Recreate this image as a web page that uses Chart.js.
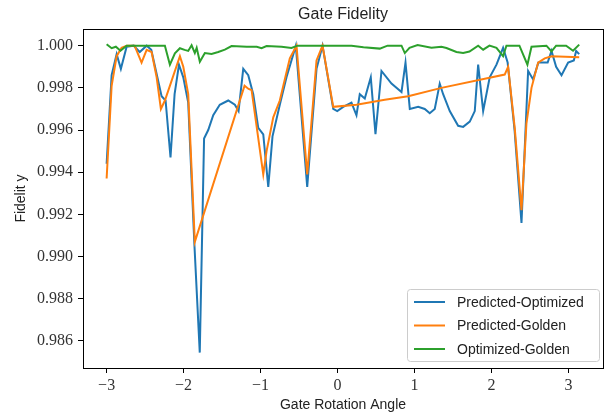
<!DOCTYPE html>
<html>
<head>
<meta charset="utf-8">
<script src="https://cdn.jsdelivr.net/npm/chart.js@4.4.1/dist/chart.umd.min.js"></script>
<style>
  body { margin: 0; background: #fff; }
  canvas { display: block; }
</style>
</head>
<body>
<canvas id="chart" width="610" height="417"></canvas>
<script>
// values (angle in rad, fidelity)
const predOptAngle = [-3.00, -2.935, -2.87, -2.815, -2.74, -2.65, -2.57, -2.48, -2.42, -2.286, -2.234, -2.17, -2.117, -2.06, -2.004, -1.94, -1.86, -1.79, -1.734, -1.68, -1.615, -1.53, -1.42, -1.334, -1.286, -1.225, -1.16, -1.095, -1.03, -0.965, -0.90, -0.845, -0.75, -0.663, -0.542, -0.394, -0.273, -0.195, -0.056, -0.004, 0.074, 0.181, 0.246, 0.289, 0.354, 0.432, 0.493, 0.571, 0.701, 0.831, 0.883, 0.939, 1.048, 1.133, 1.198, 1.263, 1.328, 1.372, 1.458, 1.567, 1.632, 1.718, 1.783, 1.827, 1.892, 1.977, 2.065, 2.151, 2.21, 2.30, 2.39, 2.476, 2.541, 2.61, 2.675, 2.73, 2.78, 2.84, 2.91, 2.996, 3.07, 3.10, 3.14];
const predOptFid = [0.9944, 0.9986, 0.9996, 0.9989, 0.99995, 1.0000, 0.9997, 1.0000, 0.9998, 0.9976, 0.9974, 0.9947, 0.9977, 0.9991, 0.9985, 0.9973, 0.9906, 0.98545, 0.9956, 0.9960, 0.9967, 0.9972, 0.9974, 0.9972, 0.9969, 0.9989, 0.9986, 0.9977, 0.9961, 0.9958, 0.9933, 0.9957, 0.9972, 0.9985, 1.0000, 0.9933, 0.9989, 1.0000, 0.9970, 0.9969, 0.9971, 0.9973, 0.9967, 0.9977, 0.9975, 0.9985, 0.9958, 0.9988, 0.9982, 0.9978, 0.9992, 0.9970, 0.9971, 0.9970, 0.9968, 0.9970, 0.9982, 0.9977, 0.9969, 0.9962, 0.99615, 0.9964, 0.9969, 0.9991, 0.9969, 0.9985, 0.9991, 0.9999, 0.9992, 0.9960, 0.9916, 0.9988, 0.9984, 0.9992, 0.9992, 0.9992, 0.99975, 0.9990, 0.9986, 0.9992, 0.9993, 0.99975, 0.9996];

const predGoldAngle = [-3.00, -2.935, -2.87, -2.806, -2.74, -2.637, -2.546, -2.48, -2.416, -2.35, -2.295, -2.243, -2.048, -2.004, -1.94, -1.854, -1.208, -1.156, -1.117, -0.965, -0.922, -0.835, -0.75, -0.62, -0.533, -0.394, -0.273, -0.195, -0.056, 0.246, 0.614, 0.918, 1.35, 2.172, 2.216, 2.302, 2.39, 2.454, 2.52, 2.606, 2.692, 2.78, 3.14];
const predGoldFid = [0.9937, 0.9981, 0.9995, 0.9999, 1.0000, 1.0000, 0.9992, 0.9998, 0.9997, 0.9985, 0.9970, 0.9974, 0.9995, 0.9990, 0.9977, 0.9907, 0.9981, 0.99795, 0.9979, 0.9939, 0.9950, 0.9966, 0.9974, 0.9994, 1.0000, 0.9939, 0.9993, 1.0000, 0.9971, 0.9972, 0.99744, 0.9976, 0.9980, 0.99863, 0.9990, 0.9961, 0.9922, 0.9963, 0.9980, 0.9992, 0.9994, 0.9995, 0.99945];

const optGoldAngle = [-3.00, -2.935, -2.88, -2.82, -2.74, -2.243, -2.178, -2.113, -2.048, -1.987, -1.94, -1.896, -1.854, -1.83, -1.789, -1.724, -1.637, -1.55, -1.464, -1.377, -1.18, -1.05, -0.987, -0.922, -0.727, -0.598, -0.52, 0.181, 0.337, 0.549, 0.65, 0.831, 0.874, 0.935, 1.04, 1.22, 1.35, 1.415, 1.545, 1.632, 1.714, 1.827, 1.892, 1.974, 2.065, 2.151, 2.194, 2.363, 2.467, 2.52, 2.714, 2.78, 2.84, 2.97, 3.06, 3.14];
const optGoldFid = [1.00007, 0.99988, 0.99995, 0.99976, 1.0000, 1.0000, 0.9991, 0.99964, 0.99988, 0.9998, 0.99975, 1.00002, 0.99965, 0.9999, 0.99924, 0.99965, 0.99961, 0.9997, 0.99981, 0.99998, 0.99995, 0.99995, 0.99988, 0.99998, 0.99995, 0.99989, 1.0000, 1.0000, 0.99992, 0.99986, 1.0000, 1.0000, 0.99965, 0.9999, 1.00003, 0.9999, 0.99995, 0.99989, 0.9997, 0.99965, 0.99972, 1.0000, 0.99981, 1.0000, 0.9999, 0.9995, 1.0000, 1.0000, 0.9991, 0.99995, 1.0000, 0.99973, 1.0000, 1.0000, 0.99976, 1.00005];

const seriesLabels = ['Predicted-Optimized', 'Predicted-Golden', 'Optimized-Golden'];
const seriesColors = ['#1f77b4', '#ff7f0e', '#2ca02c'];

const xTicks = [-3, -2, -1, 0, 1, 2, 3];
const xTickLabels = ['\u22123', '\u22122', '\u22121', '0', '1', '2', '3'];
const yTicks = [0.986, 0.988, 0.990, 0.992, 0.994, 0.996, 0.998, 1.000];

function pairs(xs, ys) {
    return xs.map((x, i) => ({x: x, y: ys[i]}));
}

// title centred over the plot box, plus the box frame and legend inside it
const framePlugin = {
    id: 'frame',
    afterDraw(chart) {
        const ctx = chart.ctx;
        const a = chart.chartArea;
        ctx.save();
        ctx.strokeStyle = '#000';
        ctx.lineWidth = 1;
        ctx.strokeRect(Math.round(a.left) + 0.5, Math.round(a.top) + 0.5,
            Math.round(a.right - a.left), Math.round(a.bottom - a.top));

        ctx.fillStyle = '#222';
        ctx.font = '16px "Liberation Sans", Arial, sans-serif';
        ctx.textAlign = 'center';
        ctx.textBaseline = 'middle';
        ctx.fillText('Gate Fidelity', (a.left + a.right) / 2, 15);

        // legend, lower right
        const bx = 407, by = 289, bw = 192, bh = 72;
        ctx.beginPath();
        ctx.roundRect(bx + 0.5, by + 0.5, bw, bh, 3);
        ctx.fillStyle = 'rgba(255,255,255,0.8)';
        ctx.fill();
        ctx.strokeStyle = '#cccccc';
        ctx.stroke();
        ctx.font = '14px "Liberation Sans", Arial, sans-serif';
        ctx.textAlign = 'left';
        seriesLabels.forEach((lab, i) => {
            const ry = by + 13 + i * 23.5;
            ctx.strokeStyle = seriesColors[i];
            ctx.lineWidth = 2;
            ctx.beginPath();
            ctx.moveTo(414, ry);
            ctx.lineTo(445, ry);
            ctx.stroke();
            ctx.fillStyle = '#222';
            ctx.fillText(lab, 457, ry + 1);
        });
        ctx.restore();
    }
};

const tickFont = {family: '"Liberation Serif", "Times New Roman", serif', size: 16};
const labelFont = {family: '"Liberation Sans", Arial, sans-serif', size: 14};

new Chart(document.getElementById('chart'), {
    type: 'line',
    data: {
        datasets: [
            {label: seriesLabels[0], data: pairs(predOptAngle, predOptFid), borderColor: seriesColors[0], order: 3},
            {label: seriesLabels[1], data: pairs(predGoldAngle, predGoldFid), borderColor: seriesColors[1], order: 2},
            {label: seriesLabels[2], data: pairs(optGoldAngle, optGoldFid), borderColor: seriesColors[2], order: 1}
        ]
    },
    options: {
        responsive: false,
        animation: false,
        layout: { padding: {top: 29, right: 7, left: 0, bottom: 0} },
        elements: {
            point: { radius: 0 },
            line: { borderWidth: 2, tension: 0, fill: false }
        },
        plugins: {
            legend: { display: false },
            title: { display: false },
            tooltip: { enabled: false }
        },
        scales: {
            x: {
                type: 'linear',
                min: -3.307,
                max: 3.449,
                afterFit: s => { s.height = 49; },
                afterBuildTicks: s => { s.ticks = xTicks.map(v => ({value: v})); },
                ticks: {
                    font: tickFont, color: '#333', padding: 3, maxRotation: 0,
                    callback: v => xTickLabels[xTicks.indexOf(v)]
                },
                grid: { display: true, drawOnChartArea: false, drawTicks: true, tickLength: 5, color: '#000' },
                border: { display: false },
                title: { display: true, text: 'Gate Rotation Angle', font: labelFont, color: '#222', padding: {top: 0, bottom: 3} }
            },
            y: {
                min: 0.98472,
                max: 1.00079,
                afterFit: s => { s.width = 83; },
                afterBuildTicks: s => { s.ticks = yTicks.map(v => ({value: v})); },
                ticks: {
                    font: tickFont, color: '#333', padding: 5,
                    callback: v => v.toFixed(3)
                },
                grid: { display: true, drawOnChartArea: false, drawTicks: true, tickLength: 5, color: '#000' },
                border: { display: false },
                title: { display: true, text: 'Fidelit y', font: labelFont, color: '#222', padding: {top: 13, bottom: 0} }
            }
        }
    },
    plugins: [framePlugin]
});
</script>
</body>
</html>
